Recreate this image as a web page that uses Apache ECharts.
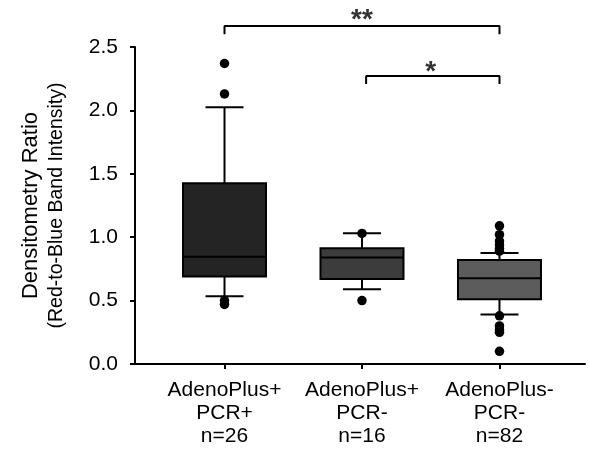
<!DOCTYPE html>
<html>
<head>
<meta charset="utf-8">
<script src="https://cdn.jsdelivr.net/npm/echarts@6/dist/echarts.min.js"></script>
<style>
  html, body { margin: 0; padding: 0; background: #fff; }
  #chart { width: 589px; height: 453px; }
</style>
</head>
<body>
<div id="chart"></div>
<script>
// groups along the x axis
const categories = ['AdenoPlus+\nPCR+', 'AdenoPlus+\nPCR-', 'AdenoPlus-\nPCR-']
const counts = [26, 16, 82]

// box statistics
const whiskerLow = [0.535, 0.59, 0.39]
const q1 = [0.69, 0.67, 0.51]
const median = [0.845, 0.84, 0.677]
const q3 = [1.425, 0.912, 0.82]
const whiskerHigh = [2.025, 1.032, 0.875]

// outliers per group
const outliers = [
  [2.37, 2.13, 0.50, 0.47],
  [1.03, 0.50],
  [1.09, 1.02, 0.97, 0.94, 0.91, 0.89, 0.38, 0.30, 0.27, 0.25, 0.10]
]

// significance brackets
const bracketFrom = [1, 2.03]
const bracketTo = [3, 3]
const bracketTop = [2.666, 2.271]
const bracketFoot = [2.60, 2.208]
const bracketMarks = ['**', '*']
const markX = [2, 2.5]
const markY = [2.71, 2.30]

const yTicks = [0, 0.5, 1.0, 1.5, 2.0, 2.5]

const boxColors = ['#242424', '#3c3c3c', '#5c5c5c']
const FONT = "'Liberation Sans', Arial, sans-serif"

const boxData = categories.map((c, i) => [i + 1, whiskerLow[i], q1[i], median[i], q3[i], whiskerHigh[i]])
const dotData = []
outliers.forEach((list, i) => {
  list.forEach(v => dotData.push([i + 1, v]))
})

function renderBox(params, api) {
  const x = api.value(0)
  const lo = api.coord([x, api.value(1)])
  const b1 = api.coord([x, api.value(2)])
  const md = api.coord([x, api.value(3)])
  const b3 = api.coord([x, api.value(4)])
  const hi = api.coord([x, api.value(5)])
  const cx = lo[0]
  const halfBox = 41.5
  const halfCap = 19
  const stroke = { stroke: '#000', lineWidth: 2 }
  return {
    type: 'group',
    children: [
      { type: 'line', shape: { x1: cx, y1: hi[1], x2: cx, y2: b3[1] }, style: stroke },
      { type: 'line', shape: { x1: cx, y1: b1[1], x2: cx, y2: lo[1] }, style: stroke },
      { type: 'line', shape: { x1: cx - halfCap, y1: hi[1], x2: cx + halfCap, y2: hi[1] }, style: stroke },
      { type: 'line', shape: { x1: cx - halfCap, y1: lo[1], x2: cx + halfCap, y2: lo[1] }, style: stroke },
      {
        type: 'rect',
        shape: { x: cx - halfBox, y: b3[1], width: halfBox * 2, height: b1[1] - b3[1] },
        style: { fill: boxColors[params.dataIndex], stroke: '#000', lineWidth: 2 }
      },
      { type: 'line', shape: { x1: cx - halfBox, y1: md[1], x2: cx + halfBox, y2: md[1] }, style: stroke }
    ]
  }
}

const bracketSeries = bracketFrom.map((f, i) => ({
  type: 'line',
  data: [[f, bracketFoot[i]], [f, bracketTop[i]], [bracketTo[i], bracketTop[i]], [bracketTo[i], bracketFoot[i]]],
  symbol: 'none',
  clip: false,
  silent: true,
  lineStyle: { color: '#000', width: 2 }
}))

const chart = echarts.init(document.getElementById('chart'))
chart.setOption({
  animation: false,
  backgroundColor: '#fff',
  grid: { left: 135, right: 4, top: 47, bottom: 89 },
  xAxis: {
    type: 'value',
    min: 0.349,
    max: 3.622,
    splitLine: { show: false },
    axisLine: { lineStyle: { color: '#000', width: 2 } },
    axisTick: { customValues: [1, 2, 3], length: 5, lineStyle: { color: '#000', width: 2 } },
    axisLabel: {
      customValues: [1, 2, 3],
      color: '#000',
      fontFamily: FONT,
      fontSize: 21,
      lineHeight: 23,
      margin: 15,
      formatter: v => categories[Math.round(v) - 1] + '\nn=' + counts[Math.round(v) - 1]
    }
  },
  yAxis: {
    type: 'value',
    min: 0,
    max: 2.5,
    interval: 0.5,
    splitLine: { show: false },
    axisLine: { show: true, lineStyle: { color: '#000', width: 2 } },
    axisTick: { show: true, length: 5, lineStyle: { color: '#000', width: 2 } },
    axisLabel: {
      color: '#000',
      fontFamily: FONT,
      fontSize: 21,
      margin: 17,
      formatter: v => yTicks.includes(v) ? v.toFixed(1) : ''
    },
    name: '{a|Densitometry Ratio}\n{b|(Red-to-Blue Band Intensity)}',
    nameLocation: 'middle',
    nameGap: 66,
    nameTextStyle: {
      rich: {
        a: { fontFamily: FONT, fontSize: 22, lineHeight: 28, color: '#000' },
        b: { fontFamily: FONT, fontSize: 19.5, lineHeight: 24, color: '#000' }
      }
    }
  },
  series: [
    {
      type: 'custom',
      renderItem: renderBox,
      data: boxData,
      encode: { x: 0, y: [1, 2, 3, 4, 5] },
      silent: true
    },
    {
      type: 'scatter',
      data: dotData,
      symbol: 'circle',
      symbolSize: 9.5,
      itemStyle: { color: '#000', opacity: 1 },
      silent: true,
      z: 3
    },
    ...bracketSeries,
    {
      type: 'scatter',
      data: markX.map((x, i) => ({ value: [x, markY[i]], name: bracketMarks[i] })),
      symbolSize: 0,
      clip: false,
      silent: true,
      label: {
        show: true,
        position: 'inside',
        formatter: p => p.name,
        color: '#000',
        fontFamily: FONT,
        fontSize: 28,
        fontWeight: 'bold'
      }
    }
  ]
})
</script>
</body>
</html>
